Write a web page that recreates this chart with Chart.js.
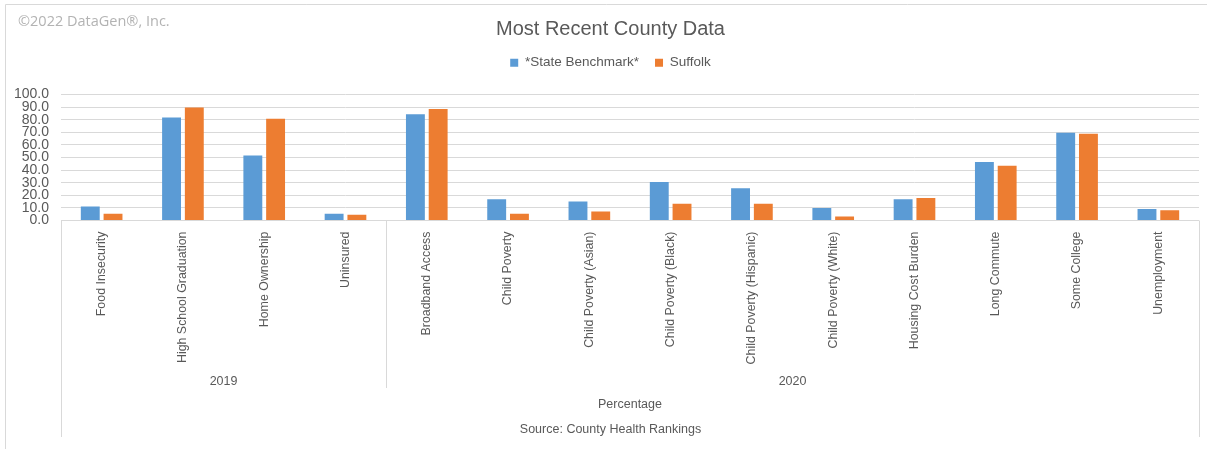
<!DOCTYPE html>
<html>
<head>
<meta charset="utf-8">
<script src="https://cdn.jsdelivr.net/npm/chart.js@4/dist/chart.umd.min.js"></script>
<style>
  html, body { margin: 0; padding: 0; background: #ffffff; }
  #wrap { position: relative; width: 1207px; height: 449px; }
  canvas { display: block; }
</style>
</head>
<body>
<div id="wrap"><canvas id="c" width="1207" height="449"></canvas></div>
<script>
// ---- data ----
const categories = [
  "Food Insecurity", "High School Graduation", "Home Ownership", "Uninsured",
  "Broadband Access", "Child Poverty", "Child Poverty (Asian)", "Child Poverty (Black)",
  "Child Poverty (Hispanic)", "Child Poverty (White)", "Housing Cost Burden",
  "Long Commute", "Some College", "Unemployment"
];
const groupNames = ["2019", "2020"];
const groupSizes = [4, 10];
const stateBenchmark = [11.1, 81.8, 51.5, 5.3, 84.4, 16.9, 15.0, 30.6, 25.6, 10.0, 16.9, 46.4, 69.7, 9.2];
const suffolk        = [5.3, 89.7, 80.7, 4.5, 88.4, 5.3, 7.1, 13.2, 13.2, 3.2, 17.9, 43.5, 68.9, 8.2];
const seriesNames = ["*State Benchmark*", "Suffolk"];
const yMin = 0, yMax = 100, yStep = 10;
const chartTitle = "Most Recent County Data";
const axisTitle = "Percentage";
const sourceText = "Source: County Health Rankings";
const copyrightText = "\u00A92022 DataGen\u00AE, Inc.";

const TEXT = "#595959";
const GRID = "#d9d9d9";
const FONT = "'Liberation Sans', Arial, sans-serif";

const decorPlugin = {
  id: "decor",
  afterLayout(chart) {
    // let the y tick labels use the space left of the axis box
    chart.scales.y.left = 6;
  },
  beforeDraw(chart) {
    const ctx = chart.ctx;
    ctx.save();
    ctx.strokeStyle = GRID;
    ctx.lineWidth = 1;
    ctx.beginPath();
    ctx.moveTo(5.5, 460); ctx.lineTo(5.5, 4.5); ctx.lineTo(1215, 4.5);
    ctx.stroke();
    ctx.fillStyle = "#b3b3b3";
    ctx.font = "14.5px 'Open Sans', sans-serif";
    ctx.textAlign = "left";
    ctx.textBaseline = "middle";
    ctx.fillText(copyrightText, 18, 22);
    ctx.restore();
  },
  afterDraw(chart) {
    const ctx = chart.ctx;
    const xs = chart.scales.x;
    const area = chart.chartArea;
    const half = (xs.getPixelForValue(1) - xs.getPixelForValue(0)) / 2;
    ctx.save();
    ctx.strokeStyle = GRID;
    ctx.lineWidth = 1;
    let start = 0;
    const bounds = [];
    groupSizes.forEach((n, gi) => {
      const left = xs.getPixelForValue(start) - half;
      const right = xs.getPixelForValue(start + n - 1) + half;
      bounds.push(left);
      if (gi === groupSizes.length - 1) bounds.push(right);
      ctx.fillStyle = TEXT;
      ctx.font = "12.5px " + FONT;
      ctx.textAlign = "center";
      ctx.textBaseline = "middle";
      ctx.fillText(groupNames[gi], (left + right) / 2, area.bottom + 161);
      start += n;
    });
    bounds.forEach((bx, i) => {
      const outer = (i === 0 || i === bounds.length - 1);
      const x = Math.round(bx) + 0.5;
      ctx.beginPath();
      ctx.moveTo(x, area.bottom);
      ctx.lineTo(x, area.bottom + (outer ? 216.5 : 167.5));
      ctx.stroke();
    });
    ctx.restore();
  }
};

new Chart(document.getElementById("c"), {
  type: "bar",
  data: {
    labels: categories,
    datasets: [
      { label: seriesNames[0], data: stateBenchmark, backgroundColor: "#5B9BD5", borderWidth: 0,
        xAxisID: "x", yAxisID: "y", categoryPercentage: 0.56, barPercentage: 0.83 },
      { label: seriesNames[1], data: suffolk, backgroundColor: "#ED7D31", borderWidth: 0,
        xAxisID: "x", yAxisID: "y", categoryPercentage: 0.56, barPercentage: 0.83 }
    ]
  },
  options: {
    responsive: false,
    animation: false,
    devicePixelRatio: 1,
    layout: { padding: { left: 22, right: 8, top: 0, bottom: 0 } },
    plugins: {
      title: {
        display: true, text: chartTitle, color: TEXT,
        font: { family: FONT, size: 20, weight: "normal", lineHeight: 1.0 },
        padding: { top: 19, bottom: 1 }
      },
      subtitle: {
        display: true, position: "bottom", text: sourceText, color: TEXT,
        font: { family: FONT, size: 12.5, weight: "normal" },
        padding: { top: 8, bottom: 12 }
      },
      legend: {
        display: true, position: "top",
        labels: { color: TEXT, font: { family: FONT, size: 13.5 }, boxWidth: 8, boxHeight: 8, padding: 16 }
      },
      tooltip: { enabled: false }
    },
    scales: {
      x: {
        type: "category",
        grid: { display: false, drawTicks: false },
        border: { display: false },
        ticks: {
          color: TEXT, font: { family: FONT, size: 12.4 },
          minRotation: 90, maxRotation: 90, autoSkip: false, padding: 11
        },
        title: {
          display: true, text: axisTitle, color: TEXT,
          font: { family: FONT, size: 12.5 }, padding: { top: 0, bottom: 2 }
        },
        afterFit(s) { s.height = 193.5; }
      },
      y: {
        min: yMin, max: yMax,
        grid: { color: GRID, lineWidth: 1, drawTicks: false },
        border: { display: false },
        ticks: {
          stepSize: yStep, autoSkip: false, color: TEXT, font: { family: FONT, size: 14 }, padding: 12,
          callback: (v) => Number(v).toFixed(1)
        },
        afterFit(s) { s.width = 39; }
      },
      gap: {
        type: "category", axis: "x", position: "top", labels: [""],
        grid: { display: false, drawTicks: false }, border: { display: false },
        ticks: { display: false },
        afterFit(s) { s.height = 15; }
      }
    }
  },
  plugins: [decorPlugin]
});
</script>
</body>
</html>
